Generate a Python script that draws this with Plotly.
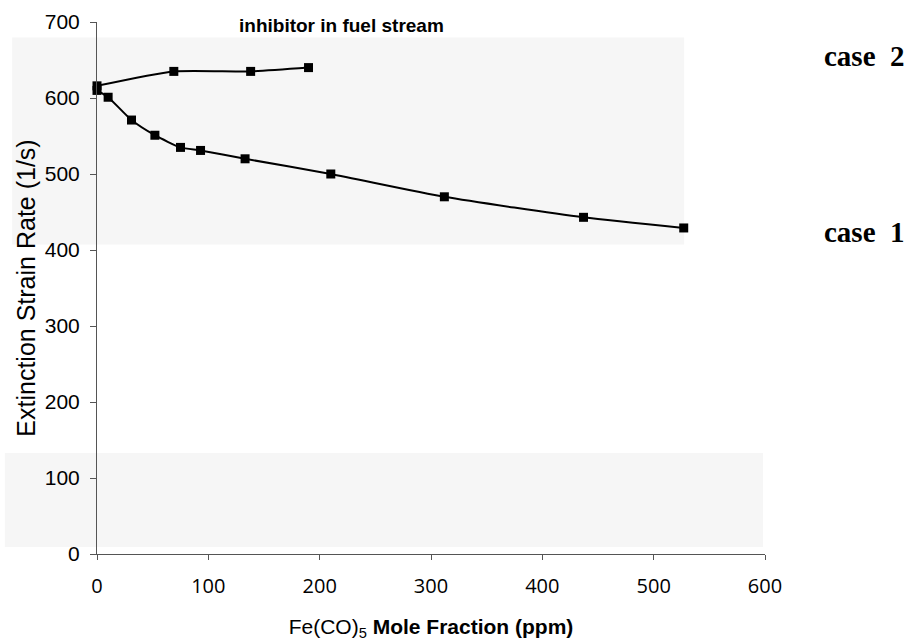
import plotly.graph_objects as go

case1_x = [0, 10, 31, 52, 75, 93, 133, 210, 312, 437, 527]
case1_y = [610, 601, 571, 551, 535, 531, 520, 500, 470, 443, 429]
case2_x = [0, 69, 138, 190]
case2_y = [616, 635, 635, 640]
x_ticks = [0, 100, 200, 300, 400, 500, 600]
y_ticks = [0, 100, 200, 300, 400, 500, 600, 700]

fig = go.Figure()
for xs, ys in [(case1_x, case1_y), (case2_x, case2_y)]:
    fig.add_trace(go.Scatter(
        x=xs, y=ys, mode="lines+markers", line=dict(color="black", width=2, shape="spline", smoothing=0.6),
        marker=dict(symbol="square", size=9, color="black"), showlegend=False, cliponaxis=False))

# faint scan background bands
fig.add_shape(type="rect", xref="paper", yref="paper", x0=-0.127, x1=0.879, y0=0.582, y1=0.971,
              fillcolor="#f6f6f6", line_width=0, layer="below")
fig.add_shape(type="rect", xref="paper", yref="paper", x0=-0.138, x1=0.997, y0=0.013, y1=0.19,
              fillcolor="#f6f6f6", line_width=0, layer="below")

fig.update_layout(
    width=915, height=641, margin=dict(l=97, r=150, t=22, b=87),
    paper_bgcolor="white", plot_bgcolor="rgba(0,0,0,0)",
    font=dict(family="Liberation Sans, Arial", color="black"),
    xaxis=dict(range=[0, 600], tickvals=x_ticks, showgrid=False, zeroline=False, showline=True,
               linecolor="#555", linewidth=1, ticks="outside", ticklen=5, tickcolor="#555",
               ticklabelstandoff=9, automargin=False,
               tickfont=dict(family="Open Sans", size=20, color="black"),
               title=dict(text="Fe(CO)<sub>5</sub> <b>Mole Fraction (ppm)</b>", font=dict(size=21), standoff=22)),
    yaxis=dict(range=[0, 700], tickvals=y_ticks, showgrid=False, zeroline=False, showline=True,
               linecolor="#555", linewidth=1, ticks="outside", ticklen=6, tickcolor="#555",
               ticklabelstandoff=6, automargin=False,
               tickfont=dict(size=21, color="black"),
               title=dict(text="Extinction Strain Rate (1/s)", font=dict(size=25), standoff=2)),
    annotations=[
        dict(text="<b>inhibitor in fuel stream</b>", xref="paper", yref="paper", x=0.21, y=0.994,
             xanchor="left", yanchor="middle", showarrow=False, font=dict(size=19)),
        dict(text="<b>case&nbsp;&nbsp;2</b>", xref="paper", yref="paper", x=1.213, y=0.937,
             xanchor="right", yanchor="middle", showarrow=False,
             font=dict(family="Liberation Serif", size=29)),
        dict(text="<b>case&nbsp;&nbsp;1</b>", xref="paper", yref="paper", x=1.213, y=0.606,
             xanchor="right", yanchor="middle", showarrow=False,
             font=dict(family="Liberation Serif", size=29)),
    ],
)
fig.write_html("out.html")
